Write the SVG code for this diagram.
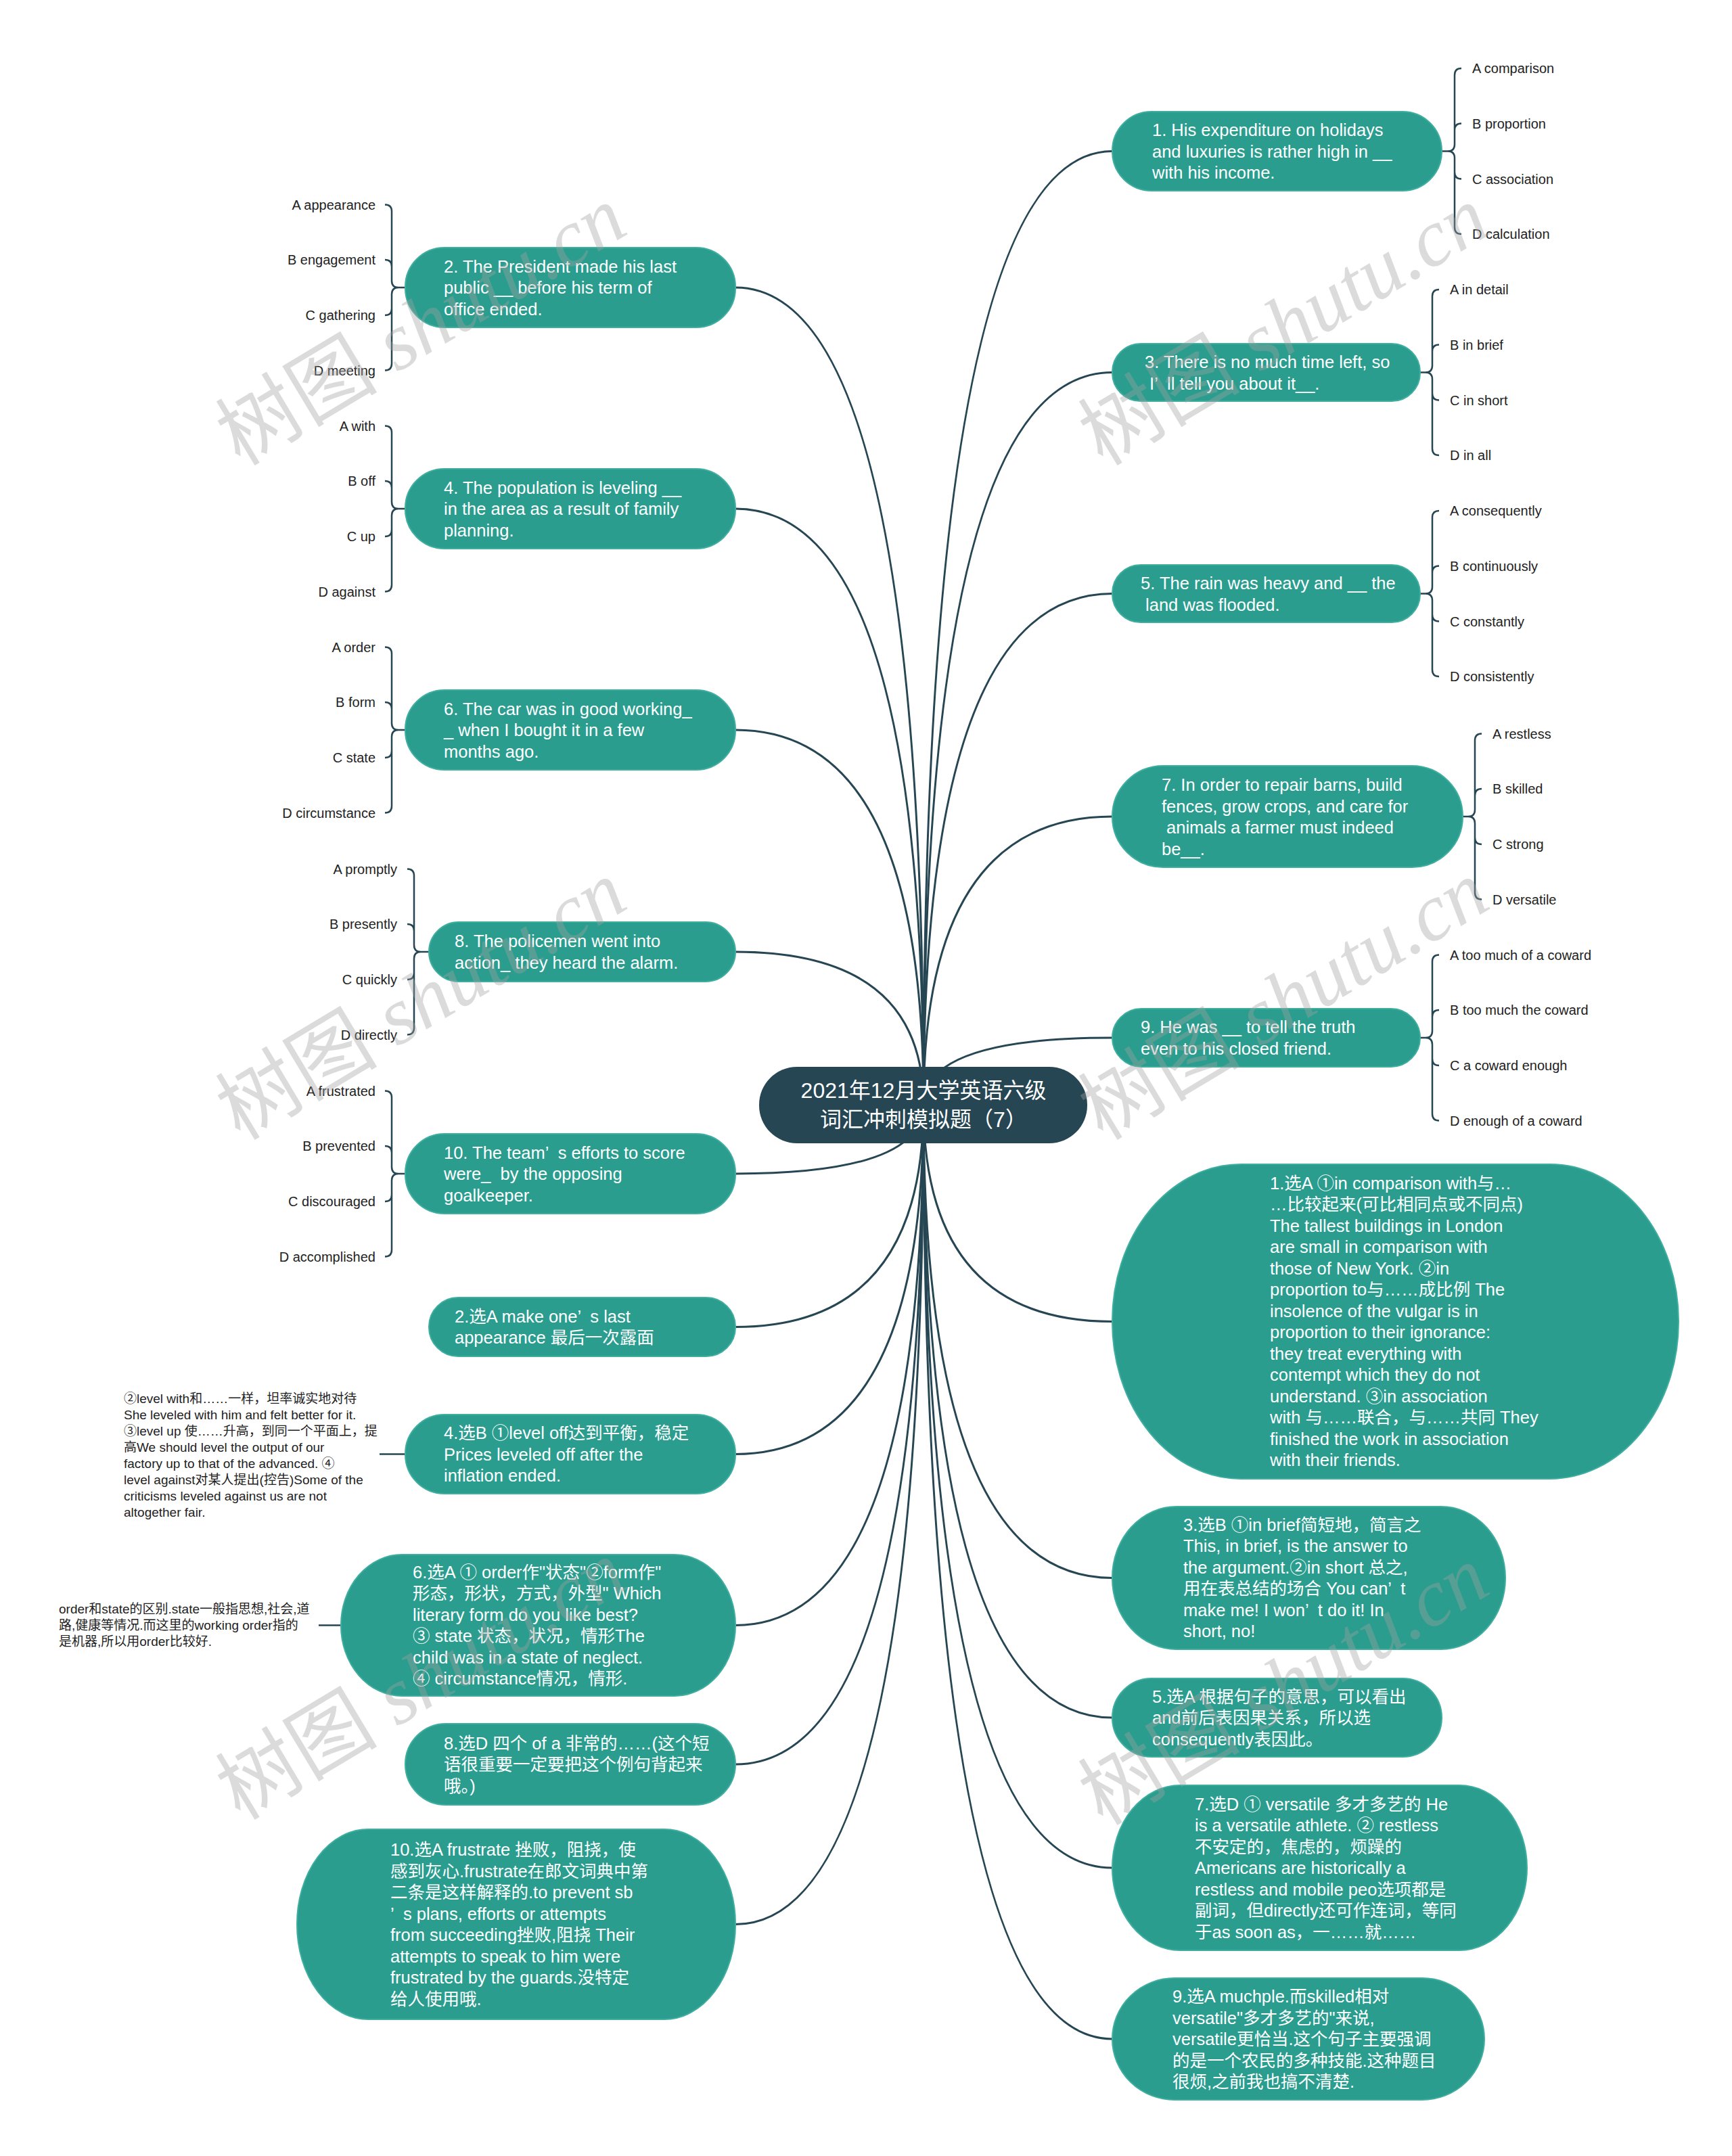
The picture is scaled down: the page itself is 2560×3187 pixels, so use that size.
<svg xmlns="http://www.w3.org/2000/svg" width="2560" height="3187" viewBox="0 0 2560 3187">
<style>
.link{fill:none;stroke:#264653;stroke-width:3}
.brace{fill:none;stroke:#264653;stroke-width:2.5}
.nd{fill:#2a9d8f;stroke:#3fae9f;stroke-width:2}
.root{fill:#264653}
.t{font-family:"Liberation Sans","Noto Sans CJK SC",sans-serif;font-size:25.5px;fill:#ffffff;white-space:pre}
.title{font-family:"Liberation Sans","Noto Sans CJK SC",sans-serif;font-size:32px;fill:#ffffff;text-anchor:middle}
.opt{font-family:"Liberation Sans","Noto Sans CJK SC",sans-serif;font-size:20px;fill:#222222}
.optl{font-family:"Liberation Sans","Noto Sans CJK SC",sans-serif;font-size:20px;fill:#222222;text-anchor:end}
.note{font-family:"Liberation Sans","Noto Sans CJK SC",sans-serif;font-size:19px;fill:#222222}
.wm{font-family:"Liberation Serif","Noto Sans CJK SC",serif;font-size:120px;fill:#a0a0a0;fill-opacity:0.38}
</style>
<rect x="0" y="0" width="2560" height="3187" fill="#ffffff"/>

<g id="connectors">
<path class="link" d="M1365 1633 Q1365 223.5 1644 223.5"/>
<path class="link" d="M1365 1633 Q1365 550.5 1644 550.5"/>
<path class="link" d="M1365 1633 Q1365 877.5 1644 877.5"/>
<path class="link" d="M1365 1633 Q1365 1207 1644 1207"/>
<path class="link" d="M1365 1633 Q1365 1534 1644 1534"/>
<path class="link" d="M1365 1633 Q1365 1953.5 1644 1953.5"/>
<path class="link" d="M1365 1633 Q1365 2332.5 1644 2332.5"/>
<path class="link" d="M1365 1633 Q1365 2539 1644 2539"/>
<path class="link" d="M1365 1633 Q1365 2761 1644 2761"/>
<path class="link" d="M1365 1633 Q1365 3014 1644 3014"/>
<path class="link" d="M1365 1633 Q1365 425 1087 425"/>
<path class="link" d="M1365 1633 Q1365 752 1087 752"/>
<path class="link" d="M1365 1633 Q1365 1079 1087 1079"/>
<path class="link" d="M1365 1633 Q1365 1407 1087 1407"/>
<path class="link" d="M1365 1633 Q1365 1735 1087 1735"/>
<path class="link" d="M1365 1633 Q1365 1961.5 1087 1961.5"/>
<path class="link" d="M1365 1633 Q1365 2149.5 1087 2149.5"/>
<path class="link" d="M1365 1633 Q1365 2402.5 1087 2402.5"/>
<path class="link" d="M1365 1633 Q1365 2608 1087 2608"/>
<path class="link" d="M1365 1633 Q1365 2844.5 1087 2844.5"/>
<!-- right braces -->
<path class="brace" d="M2131 223.5 H2140 M2140 223.5 Q2150 223.5 2150 213.5 L2150 111 Q2150 101 2160 101 M2140 223.5 Q2150 223.5 2150 213.5 L2150 192.5 Q2150 182.5 2160 182.5 M2140 223.5 Q2150 223.5 2150 233.5 L2150 254.5 Q2150 264.5 2160 264.5 M2140 223.5 Q2150 223.5 2150 233.5 L2150 336 Q2150 346 2160 346"/>
<path class="brace" d="M2099 550.5 H2107 M2107 550.5 Q2117 550.5 2117 540.5 L2117 438 Q2117 428 2127 428 M2107 550.5 Q2117 550.5 2117 540.5 L2117 519.5 Q2117 509.5 2127 509.5 M2107 550.5 Q2117 550.5 2117 560.5 L2117 581.5 Q2117 591.5 2127 591.5 M2107 550.5 Q2117 550.5 2117 560.5 L2117 663 Q2117 673 2127 673"/>
<path class="brace" d="M2099 877.5 H2107 M2107 877.5 Q2117 877.5 2117 867.5 L2117 765 Q2117 755 2127 755 M2107 877.5 Q2117 877.5 2117 867.5 L2117 846.5 Q2117 836.5 2127 836.5 M2107 877.5 Q2117 877.5 2117 887.5 L2117 908.5 Q2117 918.5 2127 918.5 M2107 877.5 Q2117 877.5 2117 887.5 L2117 990 Q2117 1000 2127 1000"/>
<path class="brace" d="M2162 1207 H2170 M2170 1207 Q2180 1207 2180 1197 L2180 1094.5 Q2180 1084.5 2190 1084.5 M2170 1207 Q2180 1207 2180 1197 L2180 1176 Q2180 1166 2190 1166 M2170 1207 Q2180 1207 2180 1217 L2180 1238 Q2180 1248 2190 1248 M2170 1207 Q2180 1207 2180 1217 L2180 1319.5 Q2180 1329.5 2190 1329.5"/>
<path class="brace" d="M2099 1534 H2107 M2107 1534 Q2117 1534 2117 1524 L2117 1421.5 Q2117 1411.5 2127 1411.5 M2107 1534 Q2117 1534 2117 1524 L2117 1503 Q2117 1493 2127 1493 M2107 1534 Q2117 1534 2117 1544 L2117 1565 Q2117 1575 2127 1575 M2107 1534 Q2117 1534 2117 1544 L2117 1646.5 Q2117 1656.5 2127 1656.5"/>
<!-- left braces -->
<path class="brace" d="M599 425 H589 M589 425 Q579 425 579 415 L579 312.5 Q579 302.5 569 302.5 M589 425 Q579 425 579 415 L579 394 Q579 384 569 384 M589 425 Q579 425 579 435 L579 456 Q579 466 569 466 M589 425 Q579 425 579 435 L579 537.5 Q579 547.5 569 547.5"/>
<path class="brace" d="M599 752 H589 M589 752 Q579 752 579 742 L579 639.5 Q579 629.5 569 629.5 M589 752 Q579 752 579 742 L579 721 Q579 711 569 711 M589 752 Q579 752 579 762 L579 783 Q579 793 569 793 M589 752 Q579 752 579 762 L579 864.5 Q579 874.5 569 874.5"/>
<path class="brace" d="M599 1079 H589 M589 1079 Q579 1079 579 1069 L579 966.5 Q579 956.5 569 956.5 M589 1079 Q579 1079 579 1069 L579 1048 Q579 1038 569 1038 M589 1079 Q579 1079 579 1089 L579 1110 Q579 1120 569 1120 M589 1079 Q579 1079 579 1089 L579 1191.5 Q579 1201.5 569 1201.5"/>
<path class="brace" d="M634 1407 H622 M622 1407 Q612 1407 612 1397 L612 1294.5 Q612 1284.5 602 1284.5 M622 1407 Q612 1407 612 1397 L612 1376 Q612 1366 602 1366 M622 1407 Q612 1407 612 1417 L612 1438 Q612 1448 602 1448 M622 1407 Q612 1407 612 1417 L612 1519.5 Q612 1529.5 602 1529.5"/>
<path class="brace" d="M599 1735 H589 M589 1735 Q579 1735 579 1725 L579 1622.5 Q579 1612.5 569 1612.5 M589 1735 Q579 1735 579 1725 L579 1704 Q579 1694 569 1694 M589 1735 Q579 1735 579 1745 L579 1766 Q579 1776 569 1776 M589 1735 Q579 1735 579 1745 L579 1847.5 Q579 1857.5 569 1857.5"/>
<!-- note links -->
<path class="brace" d="M599 2149.5 H561"/>
<path class="brace" d="M504 2402.5 H471"/>
</g>

<g id="root">
<rect class="root" x="1122" y="1577" width="485" height="113" rx="56"/>
<text class="title" x="1365" y="1623">2021年12月大学英语六级</text>
<text class="title" x="1365" y="1666">词汇冲刺模拟题（7）</text>
</g>

<g id="q1">
<rect class="nd" x="1644" y="165" width="487" height="117" rx="58"/>
<text class="t" x="1703" y="201"><tspan x="1703">1. His expenditure on holidays</tspan><tspan x="1703" dy="31.5">and luxuries is rather high in __</tspan><tspan x="1703" dy="31.5">with his income.</tspan></text>
<text class="opt" x="2176" y="108">A comparison</text>
<text class="opt" x="2176" y="189.5">B proportion</text>
<text class="opt" x="2176" y="271.5">C association</text>
<text class="opt" x="2176" y="353">D calculation</text>
</g>

<g id="q3">
<rect class="nd" x="1644" y="508" width="455" height="85" rx="42"/>
<text class="t" x="1692" y="544"><tspan x="1692">3. There is no much time left, so</tspan><tspan x="1692" dy="31.5"> I’  ll tell you about it__.</tspan></text>
<text class="opt" x="2143" y="435">A in detail</text>
<text class="opt" x="2143" y="516.5">B in brief</text>
<text class="opt" x="2143" y="598.5">C in short</text>
<text class="opt" x="2143" y="680">D in all</text>
</g>

<g id="q5">
<rect class="nd" x="1644" y="835" width="455" height="85" rx="42"/>
<text class="t" x="1686" y="871"><tspan x="1686">5. The rain was heavy and __ the</tspan><tspan x="1686" dy="31.5"> land was flooded.</tspan></text>
<text class="opt" x="2143" y="762">A consequently</text>
<text class="opt" x="2143" y="843.5">B continuously</text>
<text class="opt" x="2143" y="925.5">C constantly</text>
<text class="opt" x="2143" y="1007">D consistently</text>
</g>

<g id="q7">
<rect class="nd" x="1644" y="1132" width="518" height="150" rx="75"/>
<text class="t" x="1717" y="1169"><tspan x="1717">7. In order to repair barns, build</tspan><tspan x="1717" dy="31.5">fences, grow crops, and care for</tspan><tspan x="1717" dy="31.5"> animals a farmer must indeed</tspan><tspan x="1717" dy="31.5">be__.</tspan></text>
<text class="opt" x="2206" y="1091.5">A restless</text>
<text class="opt" x="2206" y="1173">B skilled</text>
<text class="opt" x="2206" y="1255">C strong</text>
<text class="opt" x="2206" y="1336.5">D versatile</text>
</g>

<g id="q9">
<rect class="nd" x="1644" y="1491" width="455" height="86" rx="43"/>
<text class="t" x="1686" y="1527"><tspan x="1686">9. He was __ to tell the truth</tspan><tspan x="1686" dy="31.5">even to his closed friend.</tspan></text>
<text class="opt" x="2143" y="1418.5">A too much of a coward</text>
<text class="opt" x="2143" y="1500">B too much the coward</text>
<text class="opt" x="2143" y="1582">C a coward enough</text>
<text class="opt" x="2143" y="1663.5">D enough of a coward</text>
</g>

<g id="q2">
<rect class="nd" x="599" y="366" width="488" height="118" rx="58"/>
<text class="t" x="656" y="402.5"><tspan x="656">2. The President made his last</tspan><tspan x="656" dy="31.5">public __ before his term of</tspan><tspan x="656" dy="31.5">office ended.</tspan></text>
<text class="optl" x="555" y="309.5">A appearance</text>
<text class="optl" x="555" y="391">B engagement</text>
<text class="optl" x="555" y="473">C gathering</text>
<text class="optl" x="555" y="554.5">D meeting</text>
</g>

<g id="q4">
<rect class="nd" x="599" y="693" width="488" height="118" rx="58"/>
<text class="t" x="656" y="729.5"><tspan x="656">4. The population is leveling __</tspan><tspan x="656" dy="31.5">in the area as a result of family</tspan><tspan x="656" dy="31.5">planning.</tspan></text>
<text class="optl" x="555" y="636.5">A with</text>
<text class="optl" x="555" y="718">B off</text>
<text class="optl" x="555" y="800">C up</text>
<text class="optl" x="555" y="881.5">D against</text>
</g>

<g id="q6">
<rect class="nd" x="599" y="1020" width="488" height="118" rx="58"/>
<text class="t" x="656" y="1056.5"><tspan x="656">6. The car was in good working_</tspan><tspan x="656" dy="31.5">_ when I bought it in a few</tspan><tspan x="656" dy="31.5">months ago.</tspan></text>
<text class="optl" x="555" y="963.5">A order</text>
<text class="optl" x="555" y="1045">B form</text>
<text class="optl" x="555" y="1127">C state</text>
<text class="optl" x="555" y="1208.5">D circumstance</text>
</g>

<g id="q8">
<rect class="nd" x="634" y="1363" width="453" height="88" rx="44"/>
<text class="t" x="672" y="1400"><tspan x="672">8. The policemen went into</tspan><tspan x="672" dy="31.5">action_ they heard the alarm.</tspan></text>
<text class="optl" x="587" y="1291.5">A promptly</text>
<text class="optl" x="587" y="1373">B presently</text>
<text class="optl" x="587" y="1455">C quickly</text>
<text class="optl" x="587" y="1536.5">D directly</text>
</g>

<g id="q10">
<rect class="nd" x="599" y="1676" width="488" height="118" rx="58"/>
<text class="t" x="656" y="1712.5"><tspan x="656">10. The team’  s efforts to score</tspan><tspan x="656" dy="31.5">were_  by the opposing</tspan><tspan x="656" dy="31.5">goalkeeper.</tspan></text>
<text class="optl" x="555" y="1619.5">A frustrated</text>
<text class="optl" x="555" y="1701">B prevented</text>
<text class="optl" x="555" y="1783">C discouraged</text>
<text class="optl" x="555" y="1864.5">D accomplished</text>
</g>

<g id="a2">
<rect class="nd" x="634" y="1918" width="453" height="87" rx="43"/>
<text class="t" x="672" y="1954.75"><tspan x="672">2.选A make one’  s last</tspan><tspan x="672" dy="31.5">appearance 最后一次露面</tspan></text>
</g>

<g id="a4">
<rect class="nd" x="599" y="2091" width="488" height="117" rx="58"/>
<text class="t" x="656" y="2127"><tspan x="656">4.选B ①level off达到平衡，稳定</tspan><tspan x="656" dy="31.5">Prices leveled off after the</tspan><tspan x="656" dy="31.5">inflation ended.</tspan></text>
<text class="note" x="183" y="2073.5"><tspan x="183">②level with和……一样，坦率诚实地对待</tspan><tspan x="183" dy="24">She leveled with him and felt better for it.</tspan><tspan x="183" dy="24">③level up 使……升高，到同一个平面上，提</tspan><tspan x="183" dy="24">高We should level the output of our</tspan><tspan x="183" dy="24">factory up to that of the advanced. ④</tspan><tspan x="183" dy="24">level against对某人提出(控告)Some of the</tspan><tspan x="183" dy="24">criticisms leveled against us are not</tspan><tspan x="183" dy="24">altogether fair.</tspan></text>
</g>

<g id="a6">
<rect class="nd" x="504" y="2298" width="583" height="209" rx="90" ry="104"/>
<text class="t" x="610" y="2332.75"><tspan x="610">6.选A ① order作"状态"②form作"</tspan><tspan x="610" dy="31.5">形态，形状，方式，外型" Which</tspan><tspan x="610" dy="31.5">literary form do you like best?</tspan><tspan x="610" dy="31.5">③ state 状态，状况，情形The</tspan><tspan x="610" dy="31.5">child was in a state of neglect.</tspan><tspan x="610" dy="31.5">④ circumstance情况，情形.</tspan></text>
<text class="note" x="87" y="2385"><tspan x="87">order和state的区别.state一般指思想,社会,道</tspan><tspan x="87" dy="24">路,健康等情况.而这里的working order指的</tspan><tspan x="87" dy="24">是机器,所以用order比较好.</tspan></text>
</g>

<g id="a8">
<rect class="nd" x="599" y="2548" width="488" height="120" rx="60"/>
<text class="t" x="656" y="2585.5"><tspan x="656">8.选D 四个 of a 非常的……(这个短</tspan><tspan x="656" dy="31.5">语很重要一定要把这个例句背起来</tspan><tspan x="656" dy="31.5">哦。)</tspan></text>
</g>

<g id="a10">
<rect class="nd" x="439" y="2704" width="648" height="281" rx="105" ry="140"/>
<text class="t" x="577" y="2743.25"><tspan x="577">10.选A frustrate 挫败，阻挠，使</tspan><tspan x="577" dy="31.5">感到灰心.frustrate在郎文词典中第</tspan><tspan x="577" dy="31.5">二条是这样解释的.to prevent sb</tspan><tspan x="577" dy="31.5">’  s plans, efforts or attempts</tspan><tspan x="577" dy="31.5">from succeeding挫败,阻挠 Their</tspan><tspan x="577" dy="31.5">attempts to speak to him were</tspan><tspan x="577" dy="31.5">frustrated by the guards.没特定</tspan><tspan x="577" dy="31.5">给人使用哦.</tspan></text>
</g>

<g id="a1">
<rect class="nd" x="1644" y="1721" width="837" height="465" rx="190" ry="232"/>
<text class="t" x="1877" y="1757.75"><tspan x="1877">1.选A ①in comparison with与…</tspan><tspan x="1877" dy="31.5">…比较起来(可比相同点或不同点)</tspan><tspan x="1877" dy="31.5">The tallest buildings in London</tspan><tspan x="1877" dy="31.5">are small in comparison with</tspan><tspan x="1877" dy="31.5">those of New York. ②in</tspan><tspan x="1877" dy="31.5">proportion to与……成比例 The</tspan><tspan x="1877" dy="31.5">insolence of the vulgar is in</tspan><tspan x="1877" dy="31.5">proportion to their ignorance:</tspan><tspan x="1877" dy="31.5">they treat everything with</tspan><tspan x="1877" dy="31.5">contempt which they do not</tspan><tspan x="1877" dy="31.5">understand. ③in association</tspan><tspan x="1877" dy="31.5">with 与……联合，与……共同 They</tspan><tspan x="1877" dy="31.5">finished the work in association</tspan><tspan x="1877" dy="31.5">with their friends.</tspan></text>
</g>

<g id="a3">
<rect class="nd" x="1644" y="2227" width="581" height="211" rx="95" ry="105"/>
<text class="t" x="1749" y="2262.75"><tspan x="1749">3.选B ①in brief简短地，简言之</tspan><tspan x="1749" dy="31.5">This, in brief, is the answer to</tspan><tspan x="1749" dy="31.5">the argument.②in short 总之,</tspan><tspan x="1749" dy="31.5">用在表总结的场合 You can’  t</tspan><tspan x="1749" dy="31.5">make me! I won’  t do it! In</tspan><tspan x="1749" dy="31.5">short, no!</tspan></text>
</g>

<g id="a5">
<rect class="nd" x="1644" y="2481" width="487" height="116" rx="58"/>
<text class="t" x="1703" y="2516.5"><tspan x="1703">5.选A 根据句子的意思，可以看出</tspan><tspan x="1703" dy="31.5">and前后表因果关系，所以选</tspan><tspan x="1703" dy="31.5">consequently表因此。</tspan></text>
</g>

<g id="a7">
<rect class="nd" x="1644" y="2639" width="613" height="244" rx="100" ry="122"/>
<text class="t" x="1766" y="2675.5"><tspan x="1766">7.选D ① versatile 多才多艺的 He</tspan><tspan x="1766" dy="31.5">is a versatile athlete. ② restless</tspan><tspan x="1766" dy="31.5">不安定的，焦虑的，烦躁的</tspan><tspan x="1766" dy="31.5">Americans are historically a</tspan><tspan x="1766" dy="31.5">restless and mobile peo选项都是</tspan><tspan x="1766" dy="31.5">副词，但directly还可作连词，等同</tspan><tspan x="1766" dy="31.5">于as soon as，一……就……</tspan></text>
</g>

<g id="a9">
<rect class="nd" x="1644" y="2924" width="550" height="180" rx="92" ry="90"/>
<text class="t" x="1733" y="2960"><tspan x="1733">9.选A muchple.而skilled相对</tspan><tspan x="1733" dy="31.5">versatile"多才多艺的"来说,</tspan><tspan x="1733" dy="31.5">versatile更恰当.这个句子主要强调</tspan><tspan x="1733" dy="31.5">的是一个农民的多种技能.这种题目</tspan><tspan x="1733" dy="31.5">很烦,之前我也搞不清楚.</tspan></text>
</g>

<g id="watermarks">
<text class="wm" transform="translate(355,690) rotate(-31)">树图 <tspan font-style="italic">shutu.cn</tspan></text>
<text class="wm" transform="translate(1630,690) rotate(-31)">树图 <tspan font-style="italic">shutu.cn</tspan></text>
<text class="wm" transform="translate(355,1687) rotate(-31)">树图 <tspan font-style="italic">shutu.cn</tspan></text>
<text class="wm" transform="translate(1630,1687) rotate(-31)">树图 <tspan font-style="italic">shutu.cn</tspan></text>
<text class="wm" transform="translate(355,2692) rotate(-31)">树图 <tspan font-style="italic">shutu.cn</tspan></text>
<text class="wm" transform="translate(1630,2700) rotate(-31)">树图 <tspan font-style="italic">shutu.cn</tspan></text>
</g>
</svg>
